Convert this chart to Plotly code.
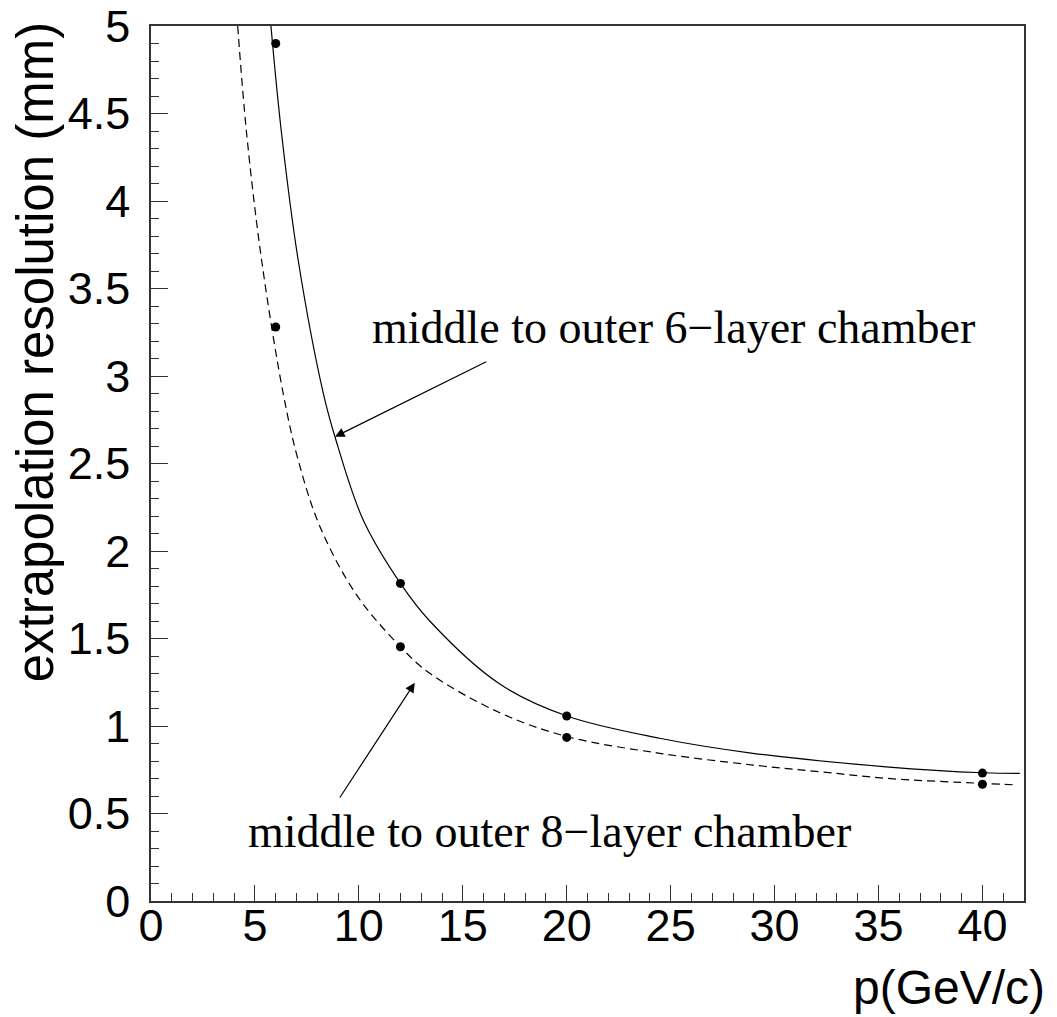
import plotly.graph_objects as go

# measured points
p_points = [6, 12, 20, 40]
res6_points = [4.90, 1.815, 1.057, 0.731]
res8_points = [3.28, 1.453, 0.935, 0.667]

# curves
curve6_x = [5.77, 6.28, 7.08, 8.29, 8.85, 10.21, 12.0, 13.41, 16.78, 20.01, 24.47, 28.96, 35.37, 40.0, 41.8]
curve6_y = [5.0, 4.387, 3.663, 2.901, 2.653, 2.177, 1.815, 1.600, 1.240, 1.057, 0.930, 0.844, 0.767, 0.733, 0.729]
curve8_x = [4.17, 4.6, 5.32, 6.36, 7.08, 8.13, 9.89, 12.0, 13.41, 16.78, 20.0, 24.47, 28.96, 32.16, 35.37, 40.0, 41.7]
curve8_y = [5.0, 4.387, 3.663, 2.90, 2.52, 2.139, 1.749, 1.453, 1.301, 1.076, 0.940, 0.844, 0.777, 0.739, 0.701, 0.672, 0.663]

label6 = "middle to outer 6\u2212layer chamber"
label8 = "middle to outer 8\u2212layer chamber"
x_title = "p(GeV/c)"
y_title = "extrapolation resolution (mm)"

fig = go.Figure()
fig.add_trace(go.Scatter(x=curve6_x, y=curve6_y, mode="lines",
                         line=dict(color="black", width=1.2, shape="spline", smoothing=1.0),
                         showlegend=False, hoverinfo="skip"))
fig.add_trace(go.Scatter(x=curve8_x, y=curve8_y, mode="lines",
                         line=dict(color="black", width=1.2, dash="8px,5px", shape="spline", smoothing=1.0),
                         showlegend=False, hoverinfo="skip"))
fig.add_trace(go.Scatter(x=p_points, y=res6_points, mode="markers",
                         marker=dict(color="black", size=9), showlegend=False))
fig.add_trace(go.Scatter(x=p_points, y=res8_points, mode="markers",
                         marker=dict(color="black", size=9), showlegend=False))

axis_common = dict(showgrid=False, zeroline=False, showline=True, linecolor="#333",
                   linewidth=1.5, mirror=True, ticks="inside", tickcolor="#333",
                   tickwidth=1, automargin=False, ticklabeloverflow="allow",
                   tickfont=dict(family="Liberation Sans, Arial", size=45, color="black"))

fig.update_xaxes(range=[0, 42], dtick=5, tick0=0, ticklen=16, ticklabelstandoff=-16,
                 minor=dict(dtick=1, ticklen=8, ticks="inside", tickcolor="#333", tickwidth=1),
                 **axis_common)
fig.update_yaxes(range=[0, 5], dtick=0.5, tick0=0, ticklen=17, ticklabelstandoff=10,
                 minor=dict(dtick=0.1, ticklen=8, ticks="inside", tickcolor="#333", tickwidth=1),
                 **axis_common)

serif = dict(family="Liberation Serif, Times New Roman", size=46, color="black")
sans_title = dict(family="Liberation Sans, Arial", color="black")

fig.update_layout(
    width=1049, height=1009,
    margin=dict(l=143, r=33, t=18, b=116),
    plot_bgcolor="white", paper_bgcolor="white",
    annotations=[
        dict(text=label6, xref="paper", yref="paper", x=0.5985, y=0.6549,
             xanchor="center", yanchor="middle", showarrow=False, font=serif),
        dict(text=label8, xref="paper", yref="paper", x=0.4559, y=0.0789,
             xanchor="center", yanchor="middle", showarrow=False, font=serif),
        dict(text="", x=8.85, y=2.653, ax=16.2, ay=3.086, xref="x", yref="y",
             axref="x", ayref="y", showarrow=True, arrowhead=2, arrowsize=1.6,
             arrowwidth=1.2, arrowcolor="black", standoff=0),
        dict(text="", x=12.69, y=1.247, ax=9.04, ay=0.583, xref="x", yref="y",
             axref="x", ayref="y", showarrow=True, arrowhead=2, arrowsize=1.6,
             arrowwidth=1.2, arrowcolor="black", standoff=0),
        dict(text=x_title, xref="paper", yref="paper", x=1.0263, y=-0.0985,
             xanchor="right", yanchor="middle", showarrow=False,
             font=dict(size=48, **sans_title)),
        dict(text=y_title, xref="paper", yref="paper", x=-0.1330, y=0.627,
             xanchor="center", yanchor="middle", textangle=-90, showarrow=False,
             font=dict(size=51, **sans_title)),
    ],
)

fig.write_html("out.html")
